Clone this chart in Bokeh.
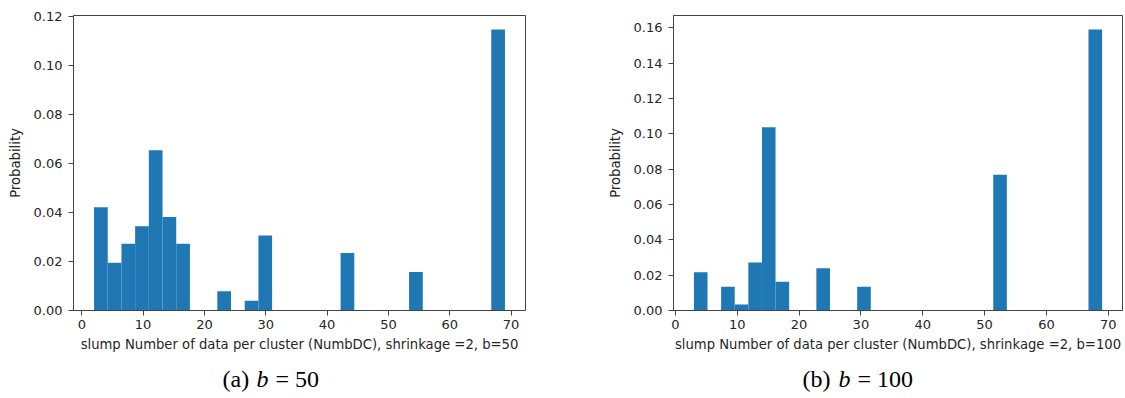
from bokeh.plotting import figure
from bokeh.layouts import row, column
from bokeh.models import Range1d, FixedTicker, PrintfTickFormatter, Label
from bokeh.embed import file_html
from bokeh.resources import INLINE
import numpy as np

# Histogram bins (30 equal-width bins over the observed NumbDC range)
bins_a_range = (2.0, 69.0)
bins_b_range = (3.0, 69.0)
n_bins = 30

# Probability density per bin, shrinkage = 2, b = 50
density_a = [0.0422, 0.0195, 0.0273, 0.0344, 0.0654, 0.0382, 0.0273, 0.0, 0.0, 0.0079,
             0.0, 0.0040, 0.0306, 0.0, 0.0, 0.0, 0.0, 0.0, 0.0235, 0.0,
             0.0, 0.0, 0.0, 0.0157, 0.0, 0.0, 0.0, 0.0, 0.0, 0.1147]

# Probability density per bin, shrinkage = 2, b = 100
density_b = [0.0216, 0.0, 0.0135, 0.0034, 0.0271, 0.1037, 0.0163, 0.0, 0.0, 0.0239,
             0.0, 0.0, 0.0135, 0.0, 0.0, 0.0, 0.0, 0.0, 0.0, 0.0,
             0.0, 0.0, 0.0768, 0.0, 0.0, 0.0, 0.0, 0.0, 0.0, 0.1590]

x_ticks = [0, 10, 20, 30, 40, 50, 60, 70]
y_ticks_a = [0.00, 0.02, 0.04, 0.06, 0.08, 0.10, 0.12]
y_ticks_b = [0.00, 0.02, 0.04, 0.06, 0.08, 0.10, 0.12, 0.14, 0.16]

x_labels = ["slump Number of data per cluster (NumbDC), shrinkage =2, b=50",
            "slump Number of data per cluster (NumbDC), shrinkage =2, b=100"]
captions = [("(a)", "b", "= 50"), ("(b)", "b", "= 100")]

BAR = "#1f77b4"
TXT = "#262626"
FONT = "DejaVu Sans"
SERIF = "Liberation Serif"
CHART_H = 358
CAPTION_H = 40


def hist_panel(rng, density, y_ticks, xlabel, border_left, frame_w, border_right):
    edges = np.linspace(rng[0], rng[1], n_bins + 1)
    span = rng[1] - rng[0]
    ymax = max(density) * 1.05
    p = figure(frame_width=frame_w, frame_height=295,
               min_border_left=border_left, min_border_right=border_right,
               min_border_top=15, min_border_bottom=CHART_H - 15 - 295,
               x_range=Range1d(rng[0] - 0.05 * span, rng[1] + 0.05 * span),
               y_range=Range1d(0, ymax),
               output_backend="svg", toolbar_location=None)
    p.quad(left=edges[:-1], right=edges[1:], bottom=0, top=density,
           fill_color=BAR, line_color=None)

    p.grid.visible = False
    p.outline_line_color = "#444444"
    p.outline_line_width = 1
    p.background_fill_color = "white"
    p.border_fill_color = "white"

    for ax in (p.xaxis[0], p.yaxis[0]):
        ax.axis_line_color = "#444444"
        ax.major_tick_line_color = "#444444"
        ax.major_tick_out = 5
        ax.major_tick_in = 0
        ax.minor_tick_line_color = None
        ax.major_label_text_font = FONT
        ax.major_label_text_font_size = "13px"
        ax.major_label_text_color = TXT
        ax.axis_label_text_font = FONT
        ax.axis_label_text_font_size = "13.2px"
        ax.axis_label_text_font_style = "normal"
        ax.axis_label_text_color = TXT

    p.xaxis.ticker = FixedTicker(ticks=x_ticks)
    p.xaxis.major_label_standoff = 4
    p.xaxis.axis_label = xlabel
    p.xaxis.axis_label_standoff = 5

    p.yaxis.ticker = FixedTicker(ticks=y_ticks)
    p.yaxis.formatter = PrintfTickFormatter(format="%.2f")
    p.yaxis.major_label_standoff = 6
    p.yaxis.axis_label = "Probability"
    p.yaxis.axis_label_standoff = 8
    return p


def caption_panel(width, caption, x0, gap_var, gap_rest):
    # A bare strip under each chart holding the "(x) b = N" sub-caption
    c = figure(width=width, height=CAPTION_H,
               x_range=Range1d(0, width), y_range=Range1d(0, CAPTION_H),
               min_border=0, output_backend="svg", toolbar_location=None)
    c.axis.visible = False
    c.grid.visible = False
    c.outline_line_color = None
    tag, var, rest = caption
    mid_y = 20
    common = dict(y=mid_y, text_font=SERIF, text_font_size="24px",
                  text_color="black", text_baseline="middle")
    c.add_layout(Label(x=x0, text=tag, **common))
    c.add_layout(Label(x=x0 + gap_var, text=var, text_font_style="italic", **common))
    c.add_layout(Label(x=x0 + gap_rest, text=rest, **common))
    return c


p1 = hist_panel(bins_a_range, density_a, y_ticks_a, x_labels[0],
                border_left=73, frame_w=452, border_right=35)
p2 = hist_panel(bins_b_range, density_b, y_ticks_b, x_labels[1],
                border_left=113, frame_w=449, border_right=3)

c1 = caption_panel(560, captions[0], x0=222, gap_var=34, gap_rest=53)
c2 = caption_panel(565, captions[1], x0=242, gap_var=36, gap_rest=55)

layout = column(row(p1, p2), row(c1, c2))
open("out.html", "w").write(file_html(layout, INLINE))
